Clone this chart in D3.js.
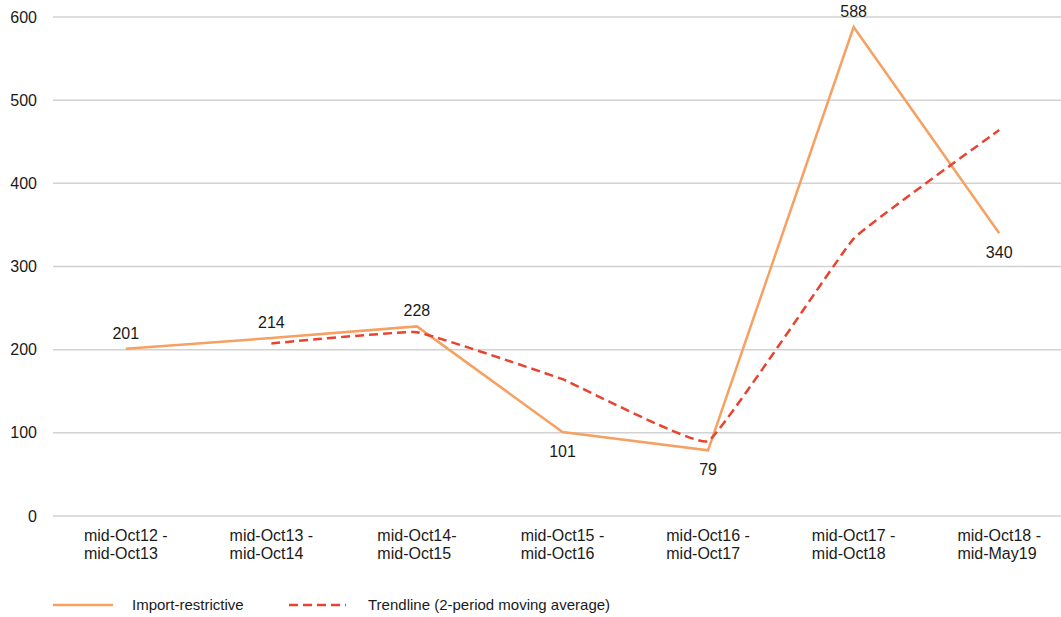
<!DOCTYPE html>
<html>
<head>
<meta charset="utf-8">
<script src="https://cdn.jsdelivr.net/npm/d3@7"></script>
<style>
  html, body { margin: 0; padding: 0; background: #ffffff; }
  svg { display: block; font-family: "Liberation Sans", Arial, Helvetica, sans-serif; }
</style>
</head>
<body>
<svg id="chart" width="1061" height="617"></svg>
<script>
// Periods (two-line axis labels)
const periods = [
  ["mid-Oct12 -", "mid-Oct13"],
  ["mid-Oct13 -", "mid-Oct14"],
  ["mid-Oct14-", "mid-Oct15"],
  ["mid-Oct15 -", "mid-Oct16"],
  ["mid-Oct16 -", "mid-Oct17"],
  ["mid-Oct17 -", "mid-Oct18"],
  ["mid-Oct18 -", "mid-May19"]
];
// Import-restrictive measures per period
const importRestrictive = [201, 214, 228, 101, 79, 588, 340];
// 2-period moving average (starts at the second period)
const trendline = [null, 207.5, 221, 164.5, 90, 333.5, 464];
// Label placement for each data label
const labelPos = ["above", "above", "above", "below", "below", "above", "below"];
const yTicks = [0, 100, 200, 300, 400, 500, 600];

const W = 1061, H = 617;
const svg = d3.select("#chart");
svg.append("rect").attr("width", W).attr("height", H).attr("fill", "#fff");

const keys = periods.map((p, i) => i);
const x = d3.scalePoint().domain(keys).range([53, 1072]).padding(0.5);
const y = d3.scaleLinear().domain([0, 600]).range([516, 17]);

// Horizontal gridlines
svg.append("g").selectAll("line").data(yTicks).join("line")
  .attr("x1", 53).attr("x2", W)
  .attr("y1", d => y(d)).attr("y2", d => y(d))
  .attr("stroke", "#d2d2d2").attr("stroke-width", 1.5);

// Y axis labels
const yAxis = d3.axisLeft(y).tickValues(yTicks).tickSize(0).tickPadding(0);
const gy = svg.append("g").attr("transform", "translate(37,0)").call(yAxis);
gy.select(".domain").remove();
gy.selectAll("text").attr("font-size", 16).attr("fill", "#1a1a1a")
  .attr("font-family", "\"Liberation Sans\", Arial, sans-serif");

// X axis labels: two left-aligned lines, block centred on the category
const xl = svg.append("g").selectAll("text").data(periods).join("text")
  .attr("font-size", 16).attr("fill", "#1a1a1a");
xl.each(function(p, i) {
  const t = d3.select(this);
  p.forEach((line, k) => {
    t.append("tspan").attr("y", 541 + k * 18).text(line);
  });
  let maxW = 0;
  t.selectAll("tspan").each(function() { maxW = Math.max(maxW, this.getComputedTextLength()); });
  t.selectAll("tspan").attr("x", x(i) - maxW / 2);
});

// Import-restrictive line
const orange = "#f6a062";
const red = "#e8432f";
const line = d3.line().x((d, i) => x(i)).y(d => y(d));
svg.append("path").datum(importRestrictive)
  .attr("d", line)
  .attr("fill", "none").attr("stroke", orange).attr("stroke-width", 2.5)
  .attr("stroke-linejoin", "miter");

// Trendline (lightly smoothed, dashed)
const tline = d3.line()
  .defined(d => d != null)
  .x((d, i) => x(i)).y(d => y(d))
  .curve(d3.curveCardinal.tension(0.75));
svg.append("path").datum(trendline)
  .attr("d", tline)
  .attr("fill", "none").attr("stroke", red).attr("stroke-width", 2.5)
  .attr("stroke-dasharray", "9,5");

// Data labels
svg.append("g").selectAll("text").data(importRestrictive).join("text")
  .attr("x", (d, i) => x(i))
  .attr("y", (d, i) => labelPos[i] === "above" ? y(d) - 10 : y(d) + 25)
  .attr("text-anchor", "middle")
  .attr("font-size", 16).attr("fill", "#1a1a1a")
  .text(d => d);

// Legend
const legend = svg.append("g");
legend.append("line").attr("x1", 53).attr("x2", 113).attr("y1", 605).attr("y2", 605)
  .attr("stroke", orange).attr("stroke-width", 2.5);
legend.append("text").attr("x", 132).attr("y", 610).attr("font-size", 15)
  .attr("fill", "#1a1a1a").text("Import-restrictive");
legend.append("line").attr("x1", 289).attr("x2", 346).attr("y1", 605).attr("y2", 605)
  .attr("stroke", red).attr("stroke-width", 2.5).attr("stroke-dasharray", "9,5");
legend.append("text").attr("x", 368).attr("y", 610).attr("font-size", 15)
  .attr("fill", "#1a1a1a").text("Trendline (2-period moving average)");
</script>
</body>
</html>
